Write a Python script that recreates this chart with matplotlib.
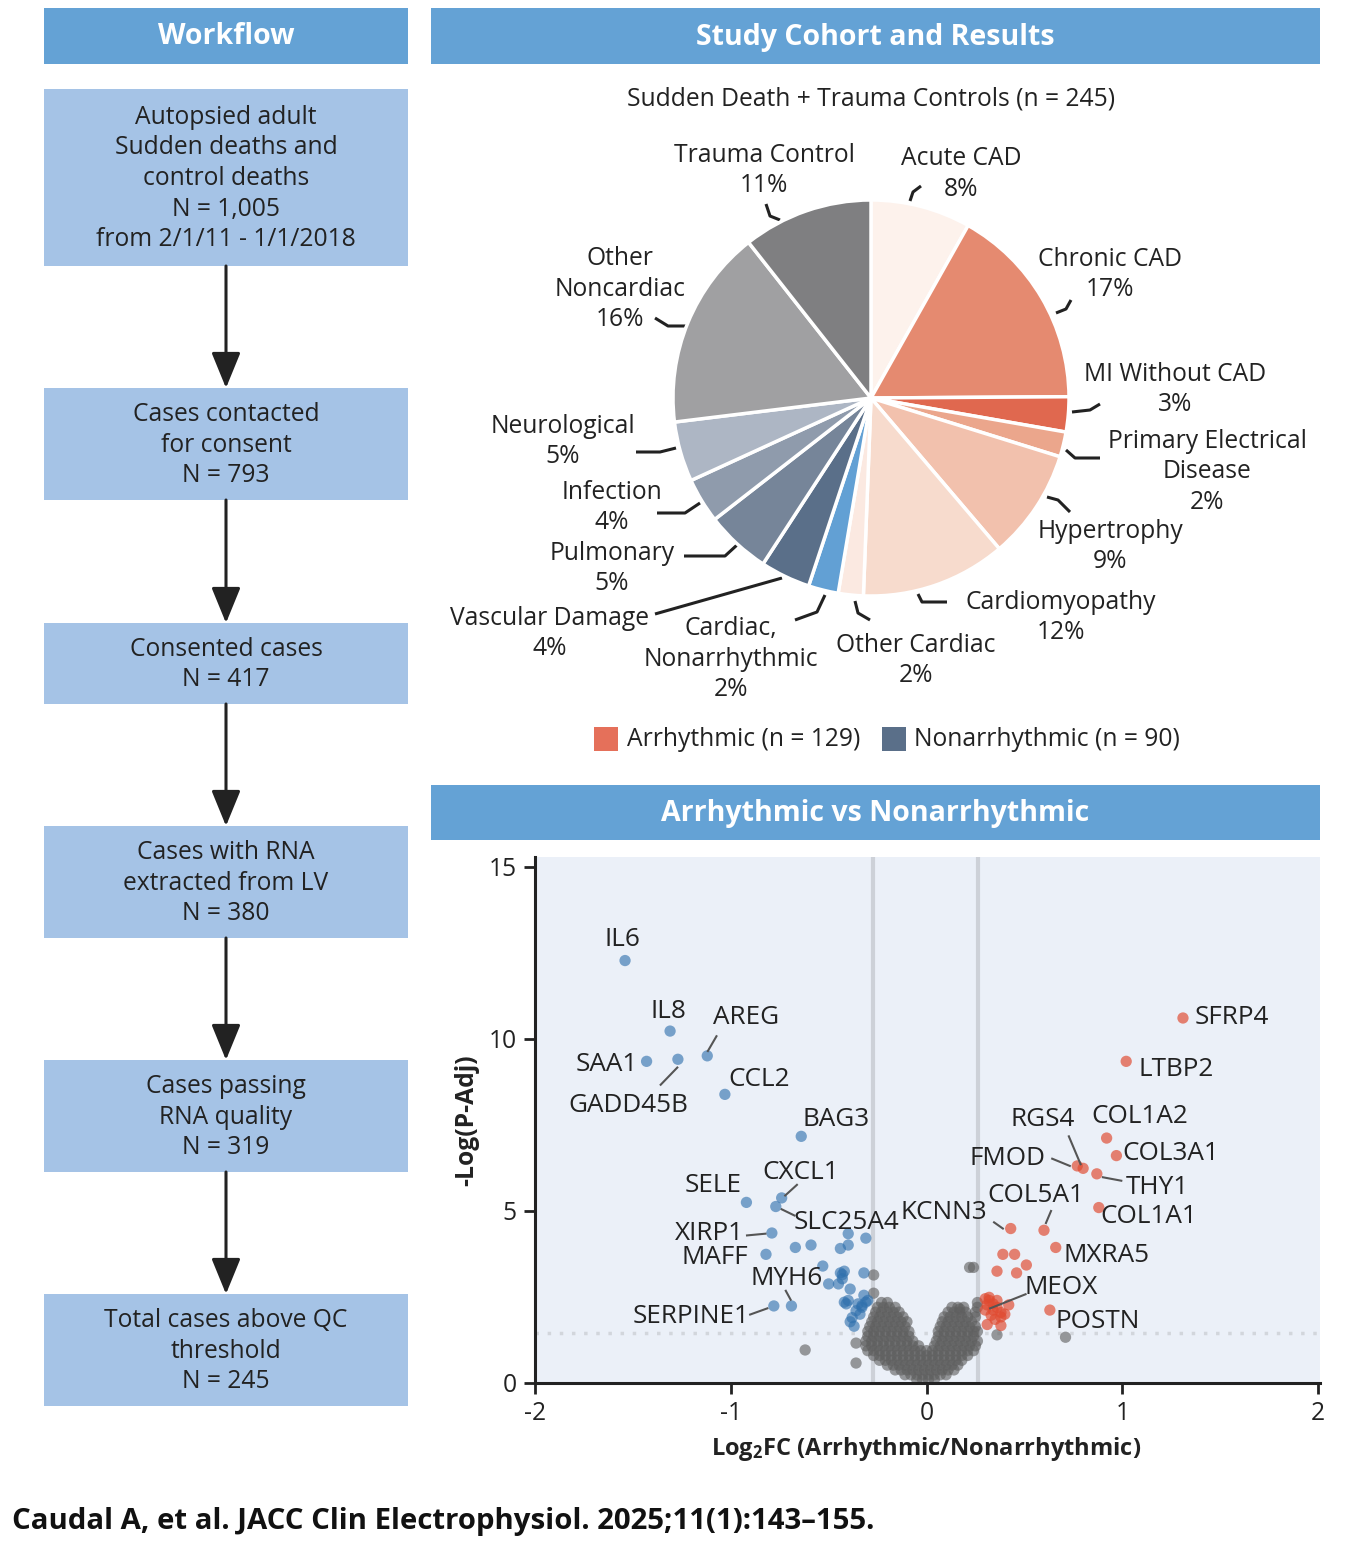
import matplotlib
matplotlib.use('Agg')
import matplotlib.pyplot as plt
from matplotlib.patches import Rectangle

plt.rcParams['font.family'] = ['Open Sans', 'DejaVu Sans']
plt.rcParams['mathtext.fontset'] = 'custom'
plt.rcParams['mathtext.rm'] = 'Open Sans'
plt.rcParams['mathtext.bf'] = 'Open Sans:bold'
plt.rcParams['mathtext.default'] = 'bf'
plt.rcParams['axes.unicode_minus'] = False

# ---------------- data ----------------
workflow_labels = ["Autopsied adult\nSudden deaths and\ncontrol deaths", "Cases contacted\nfor consent",
                   "Consented cases", "Cases with RNA\nextracted from LV", "Cases passing\nRNA quality",
                   "Total cases above QC\nthreshold"]
workflow_n = ["1,005", "793", "417", "380", "319", "245"]
workflow_extra = ["from 2/1/11 - 1/1/2018", "", "", "", "", ""]

pie_labels = ["Acute CAD", "Chronic CAD", "MI Without CAD", "Primary Electrical\nDisease", "Hypertrophy",
              "Cardiomyopathy", "Other Cardiac", "Cardiac,\nNonarrhythmic", "Vascular Damage", "Pulmonary",
              "Infection", "Neurological", "Other\nNoncardiac", "Trauma Control"]
pie_counts = [20, 41, 7, 5, 22, 29, 5, 6, 10, 13, 9, 12, 40, 26]
pie_pct = [8, 17, 3, 2, 9, 12, 2, 2, 4, 5, 4, 5, 16, 11]

blue_genes = ["IL6", "IL8", "SAA1", "GADD45B", "AREG", "CCL2", "BAG3", "SELE", "CXCL1", "SLC25A4",
              "XIRP1", "MAFF", "MYH6", "SERPINE1"]
blue_x = [-1.54, -1.31, -1.43, -1.27, -1.12, -1.03, -0.64, -0.92, -0.74, -0.77, -0.79, -0.82, -0.69, -0.78]
blue_y = [12.28, 10.23, 9.35, 9.41, 9.51, 8.39, 7.17, 5.25, 5.38, 5.13, 4.36, 3.74, 2.24, 2.24]
blue_other_x = [-0.40, -0.31, -0.67, -0.59, -0.44, -0.40, -0.53, -0.44, -0.42, -0.43, -0.32, -0.50, -0.45,
                -0.39, -0.42, -0.41, -0.40, -0.35, -0.33, -0.31, -0.36, -0.38, -0.37, -0.34, -0.32, -0.30,
                -0.43, -0.39, -0.33]
blue_other_y = [4.34, 4.21, 3.94, 4.01, 3.91, 4.01, 3.40, 3.20, 3.25, 3.15, 3.20, 2.88, 2.88,
                2.73, 2.35, 2.30, 2.40, 2.30, 2.20, 2.35, 2.10, 1.90, 1.65, 2.00, 2.55, 2.40,
                3.03, 1.78, 2.25]

red_genes = ["SFRP4", "LTBP2", "COL1A2", "COL3A1", "RGS4", "FMOD", "THY1", "COL1A1", "COL5A1", "KCNN3",
             "MXRA5", "POSTN", "MEOX"]
red_x = [1.31, 1.02, 0.92, 0.97, 0.80, 0.77, 0.87, 0.88, 0.60, 0.43, 0.66, 0.63, 0.34]
red_y = [10.61, 9.35, 7.12, 6.61, 6.24, 6.31, 6.08, 5.10, 4.44, 4.49, 3.94, 2.12, 2.12]
red_other_x = [0.39, 0.45, 0.51, 0.36, 0.46, 0.32, 0.36, 0.42, 0.30, 0.33, 0.38, 0.38, 0.31, 0.30,
               0.32, 0.34, 0.36, 0.31, 0.35, 0.40, 0.38]
red_other_y = [3.74, 3.74, 3.43, 3.25, 3.20, 2.49, 2.40, 2.27, 2.12, 1.97, 1.92, 1.67, 2.27, 2.45,
               2.40, 2.30, 2.20, 1.70, 1.85, 2.00, 2.05]

# non-significant genes, read row by row from the V-shaped cloud
grey_row_y = [0.10, 0.24, 0.38, 0.52, 0.66, 0.80, 0.94, 1.08, 1.22, 1.36, 1.50, 1.64, 1.78, 1.92, 2.06,
              2.20, 2.34]
grey_row_x = [
    [-0.05, -0.02, 0.01, 0.04],
    [-0.11, -0.08, -0.05, -0.02, 0.01, 0.04, 0.07, 0.10],
    [-0.16, -0.13, -0.10, -0.07, -0.04, -0.01, 0.02, 0.05, 0.08, 0.11, 0.14],
    [-0.20, -0.17, -0.14, -0.11, -0.08, -0.05, -0.02, 0.01, 0.04, 0.07, 0.10, 0.13, 0.16],
    [-0.24, -0.21, -0.18, -0.15, -0.12, -0.09, -0.06, -0.03, 0.00, 0.03, 0.06, 0.09, 0.12, 0.15, 0.18],
    [-0.27, -0.24, -0.21, -0.18, -0.15, -0.12, -0.09, -0.06, -0.03, 0.00, 0.03, 0.06, 0.09, 0.12, 0.15,
     0.18, 0.21],
    [-0.30, -0.27, -0.24, -0.21, -0.18, -0.15, -0.12, -0.09, -0.06, -0.03, 0.00, 0.03, 0.06, 0.09, 0.12,
     0.15, 0.18, 0.21, 0.24],
    [-0.31, -0.28, -0.25, -0.22, -0.19, -0.16, -0.13, -0.10, -0.07, -0.04, 0.04, 0.07, 0.10, 0.13, 0.16,
     0.19, 0.22, 0.25],
    [-0.31, -0.28, -0.25, -0.22, -0.19, -0.16, -0.13, -0.10, -0.07, 0.05, 0.08, 0.11, 0.14, 0.17, 0.20,
     0.23, 0.26],
    [-0.30, -0.27, -0.24, -0.21, -0.18, -0.15, -0.12, -0.09, 0.06, 0.09, 0.12, 0.15, 0.18, 0.21, 0.24],
    [-0.30, -0.27, -0.24, -0.21, -0.18, -0.15, -0.12, -0.09, 0.06, 0.09, 0.12, 0.15, 0.18, 0.21, 0.24,
     0.26],
    [-0.29, -0.26, -0.23, -0.20, -0.17, -0.14, -0.11, 0.07, 0.10, 0.13, 0.16, 0.19, 0.22, 0.25],
    [-0.28, -0.25, -0.22, -0.19, -0.16, -0.13, -0.10, 0.08, 0.11, 0.14, 0.17, 0.20, 0.23],
    [-0.27, -0.24, -0.21, -0.18, -0.15, -0.12, 0.09, 0.12, 0.15, 0.18, 0.21, 0.25],
    [-0.26, -0.23, -0.20, -0.17, -0.14, 0.11, 0.14, 0.17, 0.20, 0.25],
    [-0.25, -0.22, -0.19, -0.16, 0.13, 0.16, 0.19, 0.26],
    [-0.23, -0.20, 0.26],
]
grey_out_x = [-0.62, -0.36, -0.36, 0.71, 0.36, -0.27, -0.27, 0.22, 0.24, 0.17]
grey_out_y = [0.96, 0.58, 1.16, 1.33, 1.40, 3.14, 2.61, 3.36, 3.36, 2.15]

fc_thresh = [-0.275, 0.265]
p_thresh = 1.45

# ---------------- style / layout ----------------
W, H = 1356, 1554
HEAD = '#64a2d5'
BOX = '#a5c3e6'
TXT = '#222222'
FS = 17.7
pie_colors = ['#fdf2ec', '#e58a70', '#e0684f', '#eba68c', '#f2c1ad', '#f7dbcd', '#fbe9e1',
              '#62a0d4', '#5a6f89', '#768599', '#8f9bac', '#adb6c4', '#a0a0a2', '#7f7f81']

fig = plt.figure(figsize=(W / 100, H / 100), dpi=100)
fig.patch.set_facecolor('white')


def fa(x0, y0, x1, y1):
    return [x0 / W, 1 - y1 / H, (x1 - x0) / W, (y1 - y0) / H]


bg = fig.add_axes([0, 0, 1, 1])
bg.set_xlim(0, W)
bg.set_ylim(H, 0)
bg.axis('off')

# headers
for (x0, y0, x1, y1, t) in [(44, 8, 408, 64, 'Workflow'), (431, 8, 1320, 64, 'Study Cohort and Results'),
                            (431, 785, 1320, 840, 'Arrhythmic vs Nonarrhythmic')]:
    bg.add_patch(Rectangle((x0, y0), x1 - x0, y1 - y0, facecolor=HEAD, edgecolor='none'))
    bg.text((x0 + x1) / 2, (y0 + y1) / 2 + 1, t, color='white', fontsize=20.5, fontweight='bold',
            ha='center', va='center')

# workflow boxes
box_y = [(89, 266), (388, 500), (623, 704), (826, 938), (1060, 1172), (1294, 1406)]
for i, (y0, y1) in enumerate(box_y):
    bg.add_patch(Rectangle((44, y0), 364, y1 - y0, facecolor=BOX, edgecolor='none'))
    t = workflow_labels[i] + "\nN = " + workflow_n[i]
    if workflow_extra[i]:
        t += "\n" + workflow_extra[i]
    bg.text(226, (y0 + y1) / 2 + 1, t, ha='center', va='center', fontsize=FS, color=TXT, linespacing=1.3)
    if i < len(box_y) - 1:
        bg.annotate('', xy=(226, box_y[i + 1][0]), xytext=(226, y1),
                    arrowprops=dict(arrowstyle='-|>,head_length=1.1,head_width=0.45', color='#222222',
                                    lw=2.2, shrinkA=0, shrinkB=0, mutation_scale=20))

# pie
bg.text(871, 99, 'Sudden Death + Trauma Controls (n = 245)', ha='center', va='center', fontsize=FS, color=TXT)
axp = fig.add_axes(fa(671, 198, 1071, 598))
axp.pie(pie_counts, colors=pie_colors, startangle=90, counterclock=False, radius=1,
        wedgeprops=dict(edgecolor='white', linewidth=2.5))
axp.set_xlim(-200 / 198, 200 / 198)
axp.set_ylim(-200 / 198, 200 / 198)
axp.set_aspect('auto')
axp.axis('off')

pie_text_pos = [(961, 174), (1110, 274.5), (1175, 389.5), (1207, 472), (1110, 546.5), (1061, 617.5),
                (916, 660.5), (731, 659), (550, 633.5), (612, 568.5), (612, 507.5), (563, 441.5),
                (620, 289), (764, 170.5)]
pie_leaders = [[(910, 201), (913, 192), (921, 186)],
               [(1056, 313), (1066, 309), (1071, 300)],
               [(1072, 412), (1090, 410), (1100, 404)],
               [(1066, 450), (1075, 458), (1100, 458)],
               [(1047, 497), (1058, 500), (1070, 512)],
               [(918, 594), (922, 602), (947, 602)],
               [(855, 601), (858, 613), (870, 620)],
               [(825, 595), (817, 612), (795, 620)],
               [(655, 614), (782, 578)],
               [(684, 556), (725, 556), (737, 545)],
               [(657, 513), (685, 513), (700, 503)],
               [(636, 452), (660, 452), (676, 448)],
               [(655, 318), (668, 326), (686, 326)],
               [(766, 204), (770, 216), (780, 220)]]
for lab, pct, (tx, ty), ld in zip(pie_labels, pie_pct, pie_text_pos, pie_leaders):
    bg.text(tx, ty, f"{lab}\n{pct}%", ha='center', va='center', fontsize=FS, color=TXT, linespacing=1.3)
    bg.plot([p[0] for p in ld], [p[1] for p in ld], color='#222222', lw=2.2, solid_capstyle='butt')

# legend
bg.add_patch(Rectangle((594, 727), 24, 24, facecolor='#e5705a', edgecolor='none'))
bg.text(627, 739, 'Arrhythmic (n = 129)', ha='left', va='center', fontsize=FS, color=TXT)
bg.add_patch(Rectangle((882, 727), 24, 24, facecolor='#5a6f89', edgecolor='none'))
bg.text(914, 739, 'Nonarrhythmic (n = 90)', ha='left', va='center', fontsize=FS, color=TXT)

# volcano
axv = fig.add_axes(fa(535, 857, 1320, 1383))
axv.set_facecolor('#ebf0f8')
axv.set_xlim(-2, 2.01)
axv.set_ylim(0, 15.29)
for s in ['top', 'right']:
    axv.spines[s].set_visible(False)
for s in ['left', 'bottom']:
    axv.spines[s].set_linewidth(2.2)
    axv.spines[s].set_color('#222222')
axv.set_xticks([-2, -1, 0, 1, 2])
axv.set_yticks([0, 5, 10, 15])
axv.tick_params(direction='out', length=8, width=2, labelsize=FS, colors='#222222', pad=5)
for xv in fc_thresh:
    axv.axvline(xv, color='#cdd1d8', lw=3, zorder=1)
axv.axhline(p_thresh, color='#d2d6dc', lw=2.5, ls=(0, (1, 2.5)), zorder=1)

grey_x = [x for row in grey_row_x for x in row] + grey_out_x
grey_y = [y for y, row in zip(grey_row_y, grey_row_x) for _ in row] + grey_out_y
S = 66
axv.scatter(grey_x, grey_y, s=S, color='#5f5f5f', alpha=0.62, edgecolors='none', zorder=2)
axv.scatter(blue_x + blue_other_x, blue_y + blue_other_y, s=S, color='#2f70ad', alpha=0.62,
            edgecolors='none', zorder=3)
axv.scatter(red_x + red_other_x, red_y + red_other_y, s=S, color='#e04a30', alpha=0.68,
            edgecolors='none', zorder=3)

gene_text_pos = {"IL6": (-1.551, 12.88), "IL8": (-1.317, 10.81), "AREG": (-0.922, 10.63),
                 "SAA1": (-1.631, 9.27), "GADD45B": (-1.525, 8.06), "CCL2": (-0.857, 8.81),
                 "BAG3": (-0.46, 7.66), "SELE": (-1.088, 5.74), "CXCL1": (-0.642, 6.11),
                 "SLC25A4": (-0.41, 4.67), "XIRP1": (-1.109, 4.36), "MAFF": (-1.083, 3.64),
                 "MYH6": (-0.714, 3.03), "SERPINE1": (-1.203, 1.94), "SFRP4": (1.558, 10.61),
                 "LTBP2": (1.273, 9.12), "COL1A2": (1.091, 7.76), "COL3A1": (1.247, 6.67),
                 "RGS4": (0.592, 7.66), "FMOD": (0.416, 6.52), "THY1": (1.177, 5.68),
                 "COL1A1": (1.135, 4.83), "COL5A1": (0.558, 5.45), "KCNN3": (0.086, 4.97),
                 "MXRA5": (0.922, 3.72), "MEOX": (0.688, 2.78), "POSTN": (0.875, 1.80)}
gene_leaders = {"AREG": [(-1.073, 10.08), (-1.117, 9.65)], "GADD45B": [(-1.358, 8.67), (-1.273, 9.17)],
                "CXCL1": [(-0.662, 5.76), (-0.722, 5.45)], "SLC25A4": [(-0.740, 5.05), (-0.675, 4.87)],
                "XIRP1": [(-0.917, 4.29), (-0.823, 4.34)], "MYH6": [(-0.719, 2.68), (-0.694, 2.42)],
                "SERPINE1": [(-0.901, 1.99), (-0.813, 2.17)], "RGS4": [(0.727, 7.17), (0.787, 6.36)],
                "FMOD": [(0.642, 6.52), (0.732, 6.31)], "THY1": [(0.901, 5.98), (0.995, 5.88)],
                "COL5A1": [(0.636, 5.00), (0.610, 4.65)], "KCNN3": [(0.345, 4.67), (0.390, 4.49)],
                "MEOX": [(0.506, 2.58), (0.325, 2.17)]}
for g in blue_genes + red_genes:
    tx, ty = gene_text_pos[g]
    axv.text(tx, ty, g, ha='center', va='center', fontsize=18.8, color=TXT, zorder=5)
    if g in gene_leaders:
        ld = gene_leaders[g]
        axv.plot([p[0] for p in ld], [p[1] for p in ld], color='#555555', lw=1.5, zorder=4)

bg.text(467, 1120, '-Log(P-Adj)', rotation=90, ha='center', va='center', fontsize=FS,
        fontweight='bold', color=TXT)
bg.text(926, 1449, r'Log$_2$FC (Arrhythmic/Nonarrhythmic)', ha='center', va='center', fontsize=17,
        fontweight='bold', color=TXT)

bg.text(12, 1522, 'Caudal A, et al. JACC Clin Electrophysiol. 2025;11(1):143\u2013155.', ha='left',
        va='center', fontsize=21.2, fontweight='bold', color='#111111')

fig.savefig('out.png', dpi=100)
